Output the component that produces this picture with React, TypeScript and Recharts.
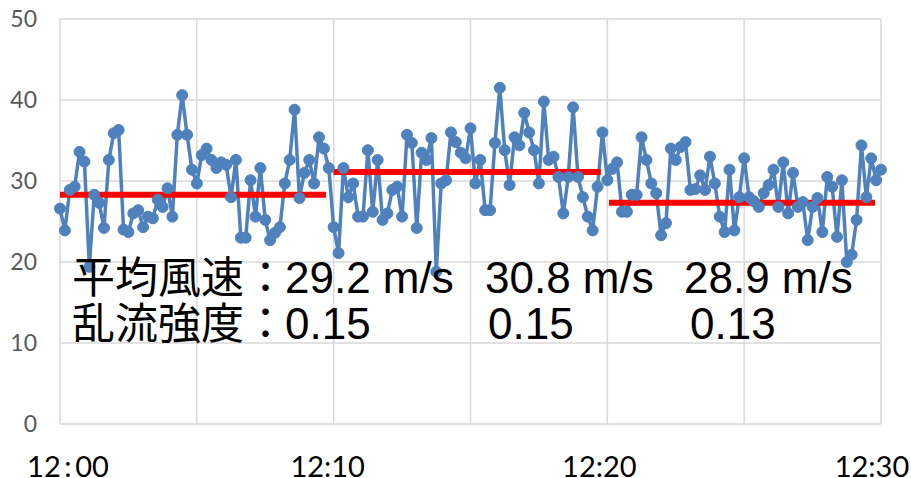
import { LineChart, Line, XAxis, YAxis, CartesianGrid } from "recharts";

// wind speed samples, 12:00 to 12:30 (m/s)
const windSpeed = [
  26.6, 23.9, 28.9, 29.3, 33.6, 32.4, 19.4, 28.3, 27.3, 24.2, 32.6, 35.9, 36.3, 24.0,
  23.7, 26.0, 26.4, 24.3, 25.6, 25.4, 27.7, 26.8, 29.1, 25.6, 35.7, 40.6, 35.7, 31.4,
  29.7, 33.2, 34.0, 32.6, 31.6, 32.3, 32.0, 28.0, 32.6, 23.0, 23.0, 30.1, 25.6, 31.6,
  25.2, 22.7, 23.6, 24.3, 29.7, 32.6, 38.8, 27.9, 31.0, 32.6, 29.7, 35.4, 34.0, 31.6,
  24.3, 21.1, 31.6, 28.0, 29.7, 25.6, 25.6, 33.8, 26.2, 32.6, 25.2, 26.0, 28.9, 29.3,
  25.6, 35.7, 34.7, 24.2, 33.5, 32.6, 35.3, 18.8, 29.7, 30.1, 36.0, 34.8, 33.5, 32.8,
  36.5, 29.7, 32.6, 26.4, 26.4, 34.7, 41.5, 33.8, 29.5, 35.4, 34.4, 38.4, 36.0, 33.8,
  29.7, 39.8, 32.6, 33.0, 30.5, 26.0, 30.5, 39.1, 30.5, 28.0, 25.6, 23.9, 29.3, 36.0,
  30.1, 31.5, 32.3, 26.2, 26.2, 28.3, 28.3, 35.4, 32.6, 29.7, 28.5, 23.3, 24.8, 34.0,
  32.6, 34.2, 34.8, 28.9, 29.0, 30.7, 28.9, 33.0, 29.7, 25.6, 23.7, 31.4, 23.9, 28.0,
  32.8, 28.0, 27.5, 26.8, 28.5, 29.5, 31.4, 26.8, 32.3, 26.0, 31.0, 26.8, 27.4, 22.7,
  26.8, 27.9, 23.7, 30.5, 29.3, 23.1, 30.1, 20.0, 20.9, 25.2, 34.4, 28.0, 32.8, 30.1,
  31.4,
];

// 10-minute mean levels (start min, end min, m/s as drawn)
const meanSegments = [
  { from: 0, to: 9.72, value: 28.3 },
  { from: 9.99, to: 19.76, value: 31.1 },
  { from: 20.06, to: 29.78, value: 27.3 },
];

const xTicks = [0, 5, 10, 15, 20, 25, 30];
const xTickLabels: Record<number, string> = {
  0: "12\u2009:\u200900",
  10: "12:10",
  20: "12:20",
  30: "12:30",
};
const yTicks = [0, 10, 20, 30, 40, 50];

const meanSpeedTitle = "平均風速：";
const meanSpeedLabels = ["29.2 m/s", "30.8 m/s", "28.9 m/s"];
const turbulenceTitle = "乱流強度：";
const turbulenceLabels = ["0.15", "0.15", "0.13"];

const rows = windSpeed.map((v, i) => ({ t: (i * 30) / (windSpeed.length - 1), v }));

const BLUE = "#4f81bd";
const tickShift: Record<number, number> = { 0: 8, 10: -6, 20: -8, 30: -9 };

function TimeTick({ x = 0, y = 0, payload }: { x?: number; y?: number; payload?: { value: number } }) {
  const value = payload?.value ?? -1;
  const label = xTickLabels[value];
  if (!label) return null;
  return (
    <text
      x={x + (tickShift[value] ?? 0)}
      y={y}
      dy={45}
      textAnchor="middle"
      fontFamily="Lato, sans-serif"
      fontSize={29}
      fill="#000"
    >
      {label}
    </text>
  );
}

const cjkStyle = { fontFamily: "'Noto Sans CJK JP', sans-serif", fontSize: 43, fill: "#000" };
const latin = { fontFamily: "'Liberation Sans', Arial, sans-serif", fontSize: 44 };

export default function App() {
  return (
    <div style={{ position: "absolute", left: 0, top: 0, width: 911, height: 478, background: "#fff" }}>
      <LineChart width={911} height={478} data={rows} margin={{ top: 19, right: 30, bottom: 0, left: 0 }}>
        <CartesianGrid stroke="#d9d9d9" strokeWidth={1.5} />
        <XAxis
          dataKey="t"
          type="number"
          domain={[0, 30]}
          ticks={xTicks}
          interval={0}
          axisLine={false}
          tickLine={false}
          tick={<TimeTick />}
          height={54}
        />
        <YAxis
          type="number"
          domain={[0, 50]}
          ticks={yTicks}
          width={60}
          axisLine={false}
          tickLine={false}
          tickMargin={17}
          tick={{ fill: "#595959", fontSize: 23, fontFamily: "Lato, sans-serif" }}
        />
        <Line
          dataKey="v"
          stroke={BLUE}
          strokeWidth={3.5}
          dot={{ r: 5.5, fill: BLUE, stroke: BLUE, strokeWidth: 1 }}
          isAnimationActive={false}
        />
        {meanSegments.map((s, i) => (
          <Line
            key={i}
            data={[
              { t: s.from, v: s.value },
              { t: s.to, v: s.value },
            ]}
            dataKey="v"
            stroke="#ff0000"
            strokeWidth={6}
            dot={false}
            isAnimationActive={false}
          />
        ))}
      </LineChart>
      <svg width={911} height={478} style={{ position: "absolute", left: 0, top: 0, pointerEvents: "none" }}>
        <text y={293} {...cjkStyle}>
          <tspan x={72}>{meanSpeedTitle}</tspan>
          <tspan x={285} {...latin}>{meanSpeedLabels[0]}</tspan>
          <tspan x={485} {...latin}>{meanSpeedLabels[1]}</tspan>
          <tspan x={684} {...latin}>{meanSpeedLabels[2]}</tspan>
        </text>
        <text y={339} {...cjkStyle}>
          <tspan x={72}>{turbulenceTitle}</tspan>
          <tspan x={285} {...latin}>{turbulenceLabels[0]}</tspan>
          <tspan x={488} {...latin}>{turbulenceLabels[1]}</tspan>
          <tspan x={690} {...latin}>{turbulenceLabels[2]}</tspan>
        </text>
      </svg>
    </div>
  );
}
